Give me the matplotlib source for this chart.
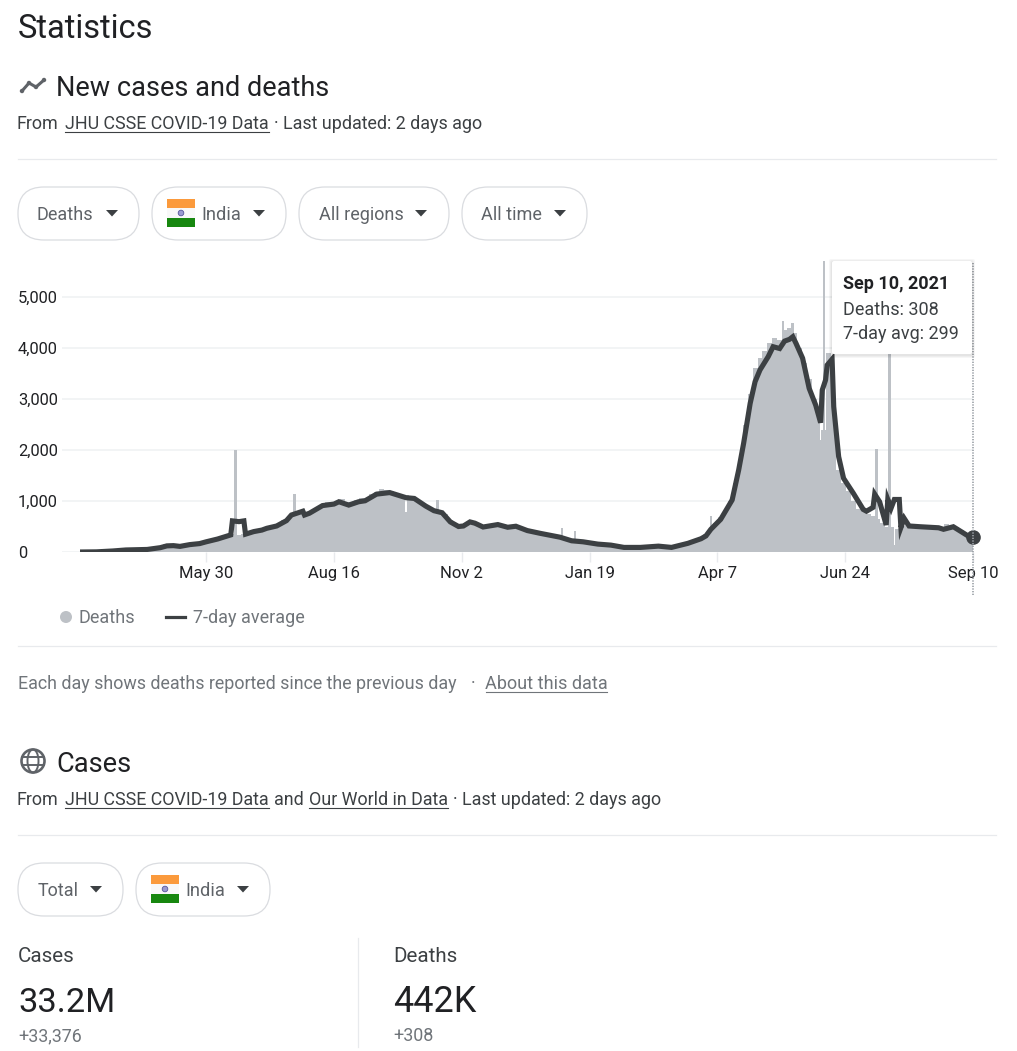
import numpy as np
import matplotlib
matplotlib.use("Agg")
from matplotlib import pyplot as plt
from matplotlib.patches import FancyBboxPatch, Rectangle, Circle, Ellipse, Polygon

plt.rcParams['font.family'] = ['Roboto', 'DejaVu Sans']

# 3 day blocks of reported deaths, first day is Mar 14 2020
deaths_3day = [
    2, 3, 3, 5, 8, 12, 18, 25, 32, 38,
    42, 45, 48, 52, 55, 65, 85, 150, 140, 130,
    115, 125, 150, 160, 175, 200, 225, 250, 275, 305,
    345, 345, 340, 360, 395, 415, 435, 460, 490, 520,
    540, 630, 670, 740, 790, 800, 760, 820, 890, 950,
    990, 970, 990, 1040, 980, 950, 1020, 1050, 1050, 1130,
    1170, 1230, 1210, 1190, 1160, 1110, 1120, 1080, 1040, 970,
    920, 860, 800, 810, 750, 620, 550, 530, 560, 620,
    590, 540, 510, 530, 560, 560, 520, 510, 520, 500,
    460, 430, 415, 385, 365, 345, 325, 310, 285, 265,
    240, 230, 215, 200, 180, 165, 150, 140, 135, 115,
    100, 95, 95, 95, 100, 110, 115, 120, 105, 100,
    95, 115, 145, 175, 200, 240, 285, 350, 460, 570,
    680, 800, 1000, 1350, 1800, 2500, 3100, 3600, 3800, 3950,
    4100, 4200, 4150, 4350, 4400, 4300, 4000, 3700, 3400, 3000,
    2600, 2400, 3900, 2500, 1600, 1350, 1200, 1000, 850, 800,
    750, 700, 650, 560, 500, 500, 450, 510, 550, 520,
    510, 520, 500, 510, 490, 460, 550, 510, 490, 430,
    350, 308,
]
# single days that stick out of their block
odd_days = [95, 131, 199, 218, 294, 302, 385, 429, 435, 452, 454, 459, 486, 494, 497]
odd_values = [2003, 1130, 790, 1020, 480, 420, 705, 4530, 4500, 2200, 6148, 3800, 2020, 3998, 130]

avg_days = [0, 10, 20, 28, 41, 49, 53, 57, 61, 67, 73, 77, 84, 92, 93, 97, 100, 101, 106, 111, 114, 120,
            126, 129, 136, 137, 140, 148, 155, 158, 164, 170, 174, 181, 189, 199, 204, 211, 216, 221,
            226, 231, 234, 238, 241, 246, 255, 261, 266, 273, 281, 293, 300, 307, 316, 324, 332, 342,
            353, 361, 371, 379, 382, 385, 391, 398, 402, 405, 409, 412, 415, 420, 423, 427, 430, 433,
            435, 437, 441, 445, 449, 452, 453, 455, 456, 459, 460, 463, 466, 472, 478, 480, 484, 485,
            488, 492, 493, 495, 497, 500, 501, 503, 506, 513, 524, 527, 533, 542, 545]
avg_values = [0, 3, 20, 40, 50, 85, 120, 125, 110, 145, 165, 200, 255, 335, 610, 595, 610, 350, 400, 430, 465, 510,
              615, 725, 800, 725, 760, 910, 940, 985, 920, 985, 1005, 1135, 1165, 1065, 1050, 900, 810, 770,
              590, 500, 510, 590, 565, 490, 538, 485, 505, 420, 365, 290, 220, 200, 155, 135, 90, 90,
              115, 90, 170, 260, 315, 445, 640, 1020, 1610, 2130, 2915, 3340, 3570, 3830, 4025, 3990, 4135, 4170,
              4220, 4090, 3800, 3210, 2880, 2535, 3175, 3370, 3665, 3780, 2850, 1870, 1445, 1150, 835, 800, 875, 1135,
              985, 530, 1030, 860, 1030, 1030, 480, 660, 510, 495, 475, 445, 495, 315, 299]

tick_days = [77, 155, 233, 311, 389, 467, 545]
tick_labels = ['May 30', 'Aug 16', 'Nov 2', 'Jan 19', 'Apr 7', 'Jun 24', 'Sep 10']
y_ticks = [0, 1000, 2000, 3000, 4000, 5000]

W, H = 1017, 1051
BAR = '#bdc1c6'
LINE = '#3c4043'
GREY = '#70757a'
RULE = '#e8eaed'

fig = plt.figure(figsize=(W / 100, H / 100), dpi=100, facecolor='white')

# chart, placed so that day 0 is at x=80 and 5,000 at y=297
left, right, top, bottom = 62, 973, 261, 552
ax = fig.add_axes([left / W, 1 - bottom / H, (right - left) / W, (bottom - top) / H])
ax.set_xlim((left - 80) / 1.636, 545)
ax.set_ylim(0, (bottom - top) / 0.051)

deaths = np.repeat(deaths_3day, 3).astype(float)
deaths[odd_days] = odd_values
ax.bar(np.arange(len(deaths)), deaths, width=1.0, color=BAR, linewidth=0, zorder=2)
# the tall single days are wider than one day on screen
tall = [d for d, v in zip(odd_days, odd_values) if v > 1000]
ax.bar(tall, deaths[tall], width=1.7, color=BAR, linewidth=0, zorder=2)
ax.plot(avg_days, avg_values, color=LINE, lw=3.7, solid_joinstyle='miter', solid_capstyle='butt', zorder=3)
ax.plot([avg_days[-1]], [avg_values[-1]], 'o', color=LINE, ms=9.5, clip_on=False, zorder=4)

ax.set_yticks(y_ticks)
ax.set_yticklabels([f'{v:,}' for v in y_ticks], fontsize=11.9, color='#202124', ha='left')
ax.tick_params(axis='y', length=0, pad=31.7)
ax.set_xticks(tick_days)
ax.set_xticklabels(tick_labels, fontsize=12, color='#202124')
ax.tick_params(axis='x', length=7, width=1, color=RULE, pad=3)
ax.grid(axis='y', color='#f1f3f4', lw=1.3, zorder=0)
ax.set_axisbelow(True)
for s in ax.spines.values():
    s.set_visible(False)
ax.set_facecolor('none')

# everything else is page furniture, drawn in pixel coordinates
ui = fig.add_axes([0, 0, 1, 1], zorder=5)
ui.set_xlim(0, W)
ui.set_ylim(H, 0)
ui.axis('off')
ui.patch.set_alpha(0)


def txt(x, y, s, px=17.9, color='#3c4043', weight='normal', ha='left'):
    ui.text(x, y, s, fontsize=px * 0.72, color=color, fontweight=weight, ha=ha, va='baseline')


def link(x0, x1, y, color='#3c4043'):
    ui.plot([x0, x1], [y, y], color=color, lw=0.8)


def pill(x0, x1, y0, y1):
    ui.add_patch(FancyBboxPatch((x0 + 26, y0 + 26), x1 - x0 - 52, y1 - y0 - 52,
                                boxstyle='round,pad=26', fc='white', ec='#dadce0', lw=0.9))


def caret(x, y):
    ui.add_patch(Polygon([[x - 6, y - 3], [x + 6, y - 3], [x, y + 3.5]], fc='#3c4043', ec='none'))


def flag(x, y):
    ui.add_patch(Rectangle((x, y), 28, 9, fc='#fb9a3c', ec='none'))
    ui.add_patch(Rectangle((x, y + 9), 28, 10, fc='#f8f8f8', ec='none'))
    ui.add_patch(Rectangle((x, y + 19), 28, 9, fc='#17870f', ec='none'))
    ui.add_patch(Circle((x + 14, y + 14), 2.8, fc='#9a9ad0', ec='#55559a', lw=0.6))


def rule(y):
    ui.plot([18, 996], [y, y], color=RULE, lw=0.9)


txt(18, 38, 'Statistics', 32.7, '#202124')

# trend icon
ui.plot([22, 29, 36, 44], [91, 83, 87, 80], color='#5f6368', lw=2.2)
for ix, iy in zip([22, 29, 36, 44], [91, 83, 87, 80]):
    ui.add_patch(Circle((ix, iy), 2.2, fc='#5f6368', ec='none'))
txt(56, 96, 'New cases and deaths', 27.1, '#202124')
txt(17, 129, 'From')
txt(65, 129, 'JHU CSSE COVID-19 Data')
link(65, 269, 132)
txt(274, 129, '· Last updated: 2 days ago')
rule(159)

pill(18, 139, 187, 240)
txt(37, 220, 'Deaths', 18, '#5f6368')
caret(112, 213)
pill(152, 286, 187, 240)
flag(167, 199)
txt(201, 220, 'India', 18.3, '#5f6368')
caret(259, 213)
pill(299, 449, 187, 240)
txt(319, 220, 'All regions', 18, '#5f6368')
caret(421, 213)
pill(462, 587, 187, 240)
txt(481, 220, 'All time', 18, '#5f6368')
caret(560, 213)

# hover line and tooltip, the soft shadow is a few faint boxes
ui.plot([973, 973], [263, 595], color='#9aa0a6', lw=1.2, ls=(0, (0.8, 0.8)), zorder=1)
for grow in [3, 2, 1]:
    ui.add_patch(FancyBboxPatch((834 - grow, 263 - grow + 1), 136 + 2 * grow, 89 + 2 * grow,
                                boxstyle='round,pad=2', fc='#000000', ec='none', alpha=0.035))
ui.add_patch(FancyBboxPatch((834, 263), 136, 89, boxstyle='round,pad=2', fc='white', ec='none'))
txt(843, 289, 'Sep 10, 2021', 18, '#202124', 'bold')
txt(843, 315, 'Deaths: 308', 18)
txt(843, 339, '7-day avg: 299', 18)

# legend
ui.add_patch(Circle((66, 617), 6, fc=BAR, ec='none'))
txt(79, 623, 'Deaths', 18, GREY)
ui.plot([166, 185], [617, 617], color=LINE, lw=2.3)
txt(193, 623, '7-day average', 18, GREY)
rule(646)

txt(18, 689, 'Each day shows deaths reported since the previous day', 17.9, GREY)
txt(471, 689, '·', 18, GREY)
txt(485, 689, 'About this data', 18, GREY)
link(486, 607, 692, GREY)

# globe icon
ui.add_patch(Circle((33, 761), 11.5, fc='none', ec='#5f6368', lw=1.9))
ui.add_patch(Ellipse((33, 761), 11, 23, fc='none', ec='#5f6368', lw=1.4))
ui.plot([22, 44], [757, 757], color='#5f6368', lw=1.4)
ui.plot([22, 44], [765, 765], color='#5f6368', lw=1.4)
txt(56, 772, 'Cases', 27.2, '#202124')
txt(17, 805, 'From')
txt(65, 805, 'JHU CSSE COVID-19 Data')
link(65, 269, 808)
txt(274, 805, 'and')
txt(309, 805, 'Our World in Data')
link(309, 448, 808)
txt(453, 805, '· Last updated: 2 days ago')
rule(835)

pill(18, 123, 863, 916)
txt(38, 896, 'Total', 18, '#5f6368')
caret(96, 889)
pill(136, 270, 863, 916)
flag(151, 875)
txt(185, 896, 'India', 18.3, '#5f6368')
caret(243, 889)

txt(18, 962, 'Cases', 20.5)
txt(18, 1012, '33.2M', 34.5, '#202124')
txt(18, 1041, '+33,376', 17.9, GREY)
ui.plot([358, 358], [938, 1047], color=RULE, lw=0.9)
txt(393, 962, 'Deaths', 20.5)
txt(393, 1012, '442K', 36, '#202124')
txt(393, 1041, '+308', 17.9, GREY)

fig.savefig('out.png', dpi=100)
